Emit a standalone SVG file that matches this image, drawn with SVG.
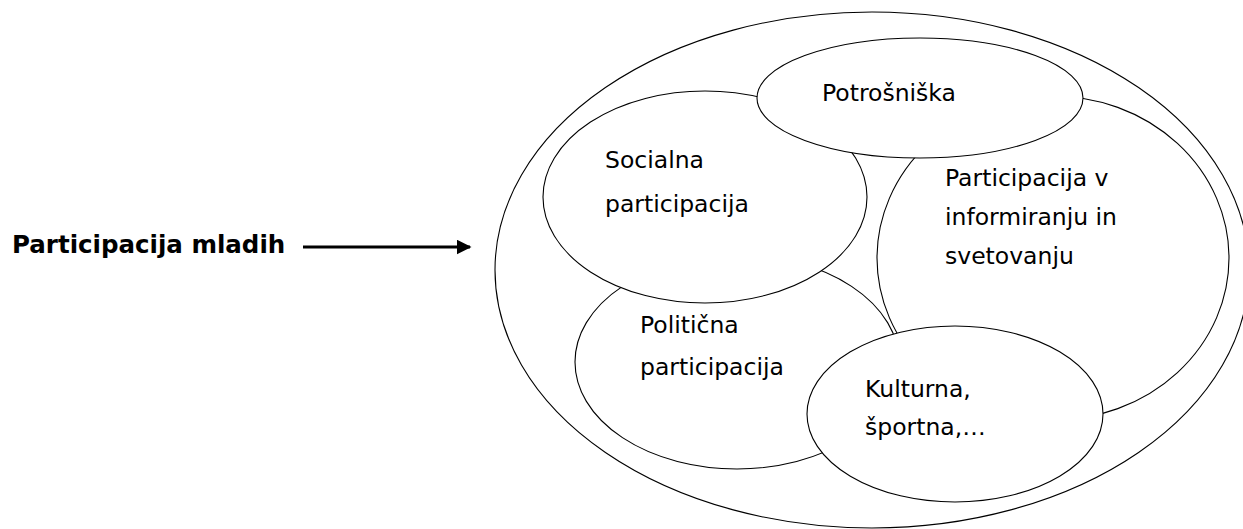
<svg xmlns="http://www.w3.org/2000/svg" width="1243" height="529" viewBox="0 0 1243 529">
<style>
.e{fill:#fff;stroke:#000;stroke-width:1.1}
.t{font-family:"DejaVu Sans",Verdana,sans-serif;font-size:23.5px;fill:#000}
.b{font-family:"DejaVu Sans",Verdana,sans-serif;font-size:24.5px;font-weight:bold;fill:#000}
</style>
<defs>
<marker id="ah" markerWidth="5" markerHeight="5" refX="4.5" refY="2.5" orient="auto" markerUnits="strokeWidth">
<path d="M0,0 L5,2.5 L0,5 Z" fill="#000"/>
</marker>
</defs>
<rect width="1243" height="529" fill="#fff"/>
<g id="outer"><ellipse class="e" cx="872" cy="270" rx="377" ry="258"/></g>
<g id="informiranje"><ellipse class="e" cx="1053" cy="258" rx="176" ry="162"/>
<text class="t" x="945" y="186">Participacija v</text>
<text class="t" x="945" y="225">informiranju in</text>
<text class="t" x="945" y="264">svetovanju</text></g>
<g id="politicna"><ellipse class="e" cx="737" cy="362" rx="162" ry="107"/>
<text class="t" x="640" y="333">Politična</text>
<text class="t" x="640" y="375">participacija</text></g>
<g id="socialna"><ellipse class="e" cx="705" cy="197" rx="162" ry="106"/>
<text class="t" x="605" y="168">Socialna</text>
<text class="t" x="605" y="212">participacija</text></g>
<g id="potrosniska"><ellipse class="e" cx="920" cy="98" rx="163" ry="60"/>
<text class="t" x="822" y="101">Potrošniška</text></g>
<g id="kulturna"><ellipse class="e" cx="955" cy="414" rx="148" ry="88"/>
<text class="t" x="865" y="397">Kulturna,</text>
<text class="t" x="865" y="435">športna,…</text></g>
<g id="label"><text class="b" x="12" y="253">Participacija mladih</text></g>
<g id="connectors"><line x1="303" y1="247" x2="470" y2="247" stroke="#000" stroke-width="3" marker-end="url(#ah)"/></g>
</svg>
